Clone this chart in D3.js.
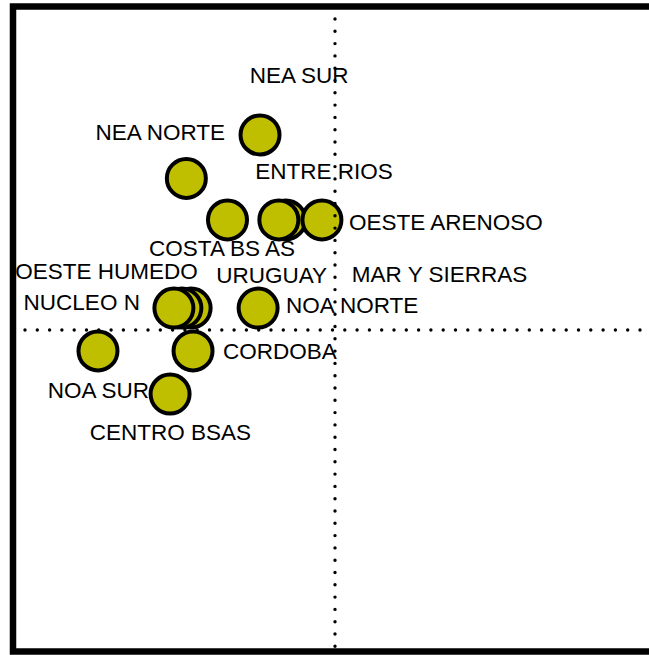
<!DOCTYPE html>
<html>
    <head>
        <title>Regiones</title>
        <script src="https://d3js.org/d3.v7.min.js" charset="utf-8"></script>
        <style>
            body { margin: 0; background: #fff; }
            text { font-family: "Liberation Sans", Arial, sans-serif; font-size: 22.5px; fill: #000; }
        </style>
    </head>
    <body>
        <script>
            // regions, in drawing order (later ones sit on top)
            var regions = ["MAR Y SIERRAS", "OESTE HUMEDO", "NUCLEO N", "URUGUAY", "ENTRE RIOS",
                           "OESTE ARENOSO", "NEA NORTE", "NEA SUR", "COSTA BS AS", "NOA NORTE",
                           "NOA SUR", "CORDOBA", "CENTRO BSAS"];
            var xValues = [-45.1, -48.0, -50.5, -15.4, -17.6, -4.1, -23.5, -46.6, -33.7, -24.1, -74.3, -44.5, -51.7];
            var yValues = [6.7, 6.7, 6.7, 34.3, 34.3, 34.3, 60.9, 47.3, 34.3, 6.7, -6.7, -6.7, -20.2];

            // where each label sits relative to its bubble (layout only)
            var labelPlacement = [
                {dx: 160.7, dy: -26.3, anchor: "start"},
                {dx: -75.3, dy: -28.7, anchor: "middle"},
                {dx: -34, dy: 2, anchor: "end"},
                {dx: -14.3, dy: 63.3, anchor: "middle"},
                {dx: 45.2, dy: -41, anchor: "middle"},
                {dx: 27, dy: 10, anchor: "start"},
                {dx: -35, dy: 5, anchor: "end"},
                {dx: 112.8, dy: -95, anchor: "middle"},
                {dx: -5.5, dy: 36, anchor: "middle"},
                {dx: 28, dy: 5.3, anchor: "start"},
                {dx: 0.4, dy: 47.3, anchor: "middle"},
                {dx: 30, dy: 8, anchor: "start"},
                {dx: 0.3, dy: 46, anchor: "middle"}
            ];

            var width = 649, height = 655;
            var svg = d3.select("body").append("svg")
                .attr("width", width)
                .attr("height", height);

            var x = d3.scaleLinear().domain([-100, 100]).range([16, 654]);
            var y = d3.scaleLinear().domain([-100, 100]).range([649, 10]);

            var points = regions.map(function(name, i) {
                return {name: name, x: xValues[i], y: yValues[i], label: labelPlacement[i]};
            });

            // thick frame, right edge runs off the page
            svg.append("rect")
                .attr("x", 13)
                .attr("y", 6.5)
                .attr("width", 660)
                .attr("height", 645)
                .attr("fill", "none")
                .attr("stroke", "#000")
                .attr("stroke-width", 6.5);

            // labels go under the bubbles
            svg.append("g").selectAll("text")
                .data(points)
                .join("text")
                .attr("x", d => x(d.x) + d.label.dx)
                .attr("y", d => y(d.y) + d.label.dy)
                .attr("text-anchor", d => d.label.anchor)
                .text(d => d.name);

            svg.append("g").selectAll("circle")
                .data(points)
                .join("circle")
                .attr("cx", d => x(d.x))
                .attr("cy", d => y(d.y))
                .attr("r", 19.5)
                .attr("fill", "#bfbf00")
                .attr("stroke", "#000")
                .attr("stroke-width", 4);

            // dotted quadrant lines on top of everything
            var dots = svg.append("g")
                .attr("stroke", "#000")
                .attr("stroke-width", 3.4)
                .attr("stroke-linecap", "round")
                .attr("stroke-dasharray", "0 12.3")
                .attr("stroke-dashoffset", 3.3);
            dots.append("line")
                .attr("x1", x(0)).attr("x2", x(0))
                .attr("y1", y(100)).attr("y2", y(-100));
            dots.append("line")
                .attr("x1", x(-100)).attr("x2", x(100))
                .attr("y1", y(0) + 0.5).attr("y2", y(0) + 0.5);
        </script>
    </body>
</html>
